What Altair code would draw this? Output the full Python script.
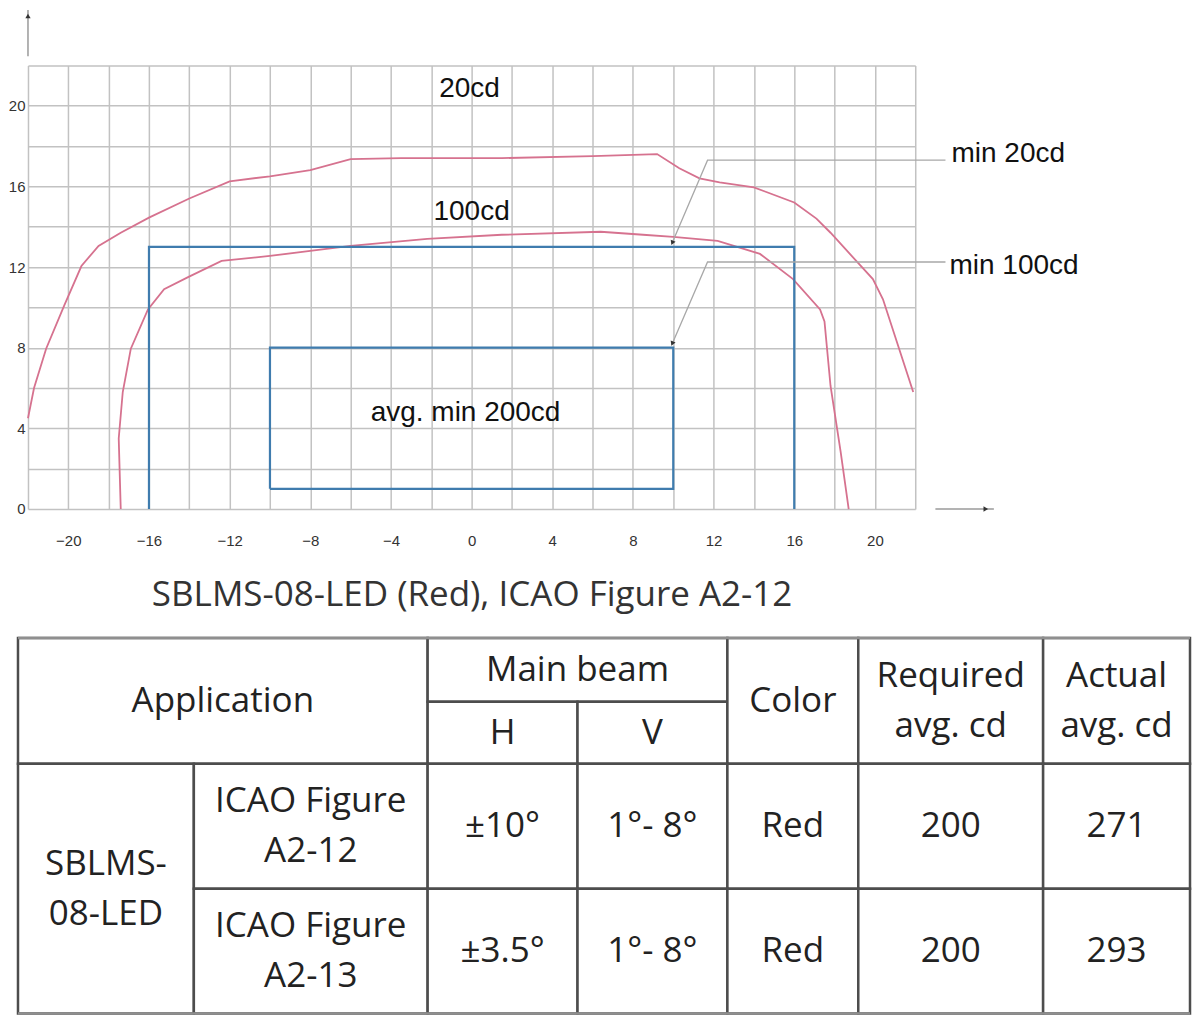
import altair as alt
import pandas as pd

# isocandela curves (H deg, V deg)
outer_x = [-22, -21.7, -21.1, -20.2, -19.35, -18.5, -17.4, -16, -14, -12, -10, -8, -6,
           -3.5, 1.5, 6, 9.2, 10.3, 11.3, 12.3, 14, 16, 17.1, 17.8, 19.9, 20.4, 21.9]
outer_y = [4.5, 6.0, 7.95, 10.1, 12.05, 13.05, 13.7, 14.45, 15.4, 16.25, 16.5, 16.8, 17.35,
           17.4, 17.4, 17.5, 17.6, 16.9, 16.4, 16.2, 15.95, 15.2, 14.4, 13.7, 11.4, 10.4, 5.8]
inner_x = [-17.4, -17.5, -17.3, -16.9, -16.05, -15.25, -14.06, -12.4, -10, -8, -6, -2.2,
           1.5, 6.4, 8.5, 10, 12.2, 14.3, 15.94, 17.28, 17.5, 17.8, 18.3, 18.7]
inner_y = [0, 3.5, 5.8, 7.95, 9.9, 10.9, 11.5, 12.3, 12.55, 12.8, 13.05, 13.4,
           13.6, 13.75, 13.6, 13.5, 13.3, 12.65, 11.4, 9.9, 9.3, 6.1, 2.85, 0]

# required beam boxes
box100_x = [-16, -16, 16, 16]
box100_y = [0, 13, 13, 0]
box200_x = [-10, -10, 10, 10, -10]
box200_y = [1, 8, 8, 1, 1]

# leader lines from the labels on the right
lead20_x = [23.5, 11.7, 9.95]
lead20_y = [17.3, 17.3, 13.2]
lead100_x = [23.5, 11.7, 9.95]
lead100_y = [12.25, 12.25, 8.2]

mid_labels = ["20cd", "100cd", "avg. min 200cd"]
mid_x = [-0.1, 0, -0.3]
mid_y = [20.85, 14.75, 4.75]
side_labels = ["min 20cd", "min 100cd"]
side_x = [23.8, 23.7]
side_y = [17.6, 12.05]

# axis arrows
arrow_x = [-22, 23.0]
arrow_x2 = [-22, 25.9]
arrow_y = [22.45, 0]
arrow_y2 = [24.75, 0]
head_x = [9.95, 9.95, -22, 25.5]
head_y = [13.2, 8.2, 24.45, 0]
head_shape = ["triangle-down", "triangle-down", "triangle-up", "triangle-right"]
head_angle = [23, 23, 0, 0]

# table
header = ["Application", "Main beam", "H", "V", "Color", "Required\navg. cd", "Actual\navg. cd"]
app_name = "SBLMS-\n08-LED"
figures = ["ICAO Figure\nA2-12", "ICAO Figure\nA2-13"]
beam_h = ["±10°", "±3.5°"]
beam_v = ["1°- 8°", "1°- 8°"]
colors = ["Red", "Red"]
required = [200, 200]
actual = [271, 293]

col_w = [176, 234, 150, 150, 131, 185, 147]
row_h = [64, 62, 125, 125]

RED = "#d6728f"
BLUE = "#3f7cae"
GRID = "#c2c2c2"
LINE_H = 50


def lines(parts):
    rows = []
    for name, xs, ys in parts:
        for i, (a, b) in enumerate(zip(xs, ys)):
            rows.append({"name": name, "i": i, "x": a, "y": b})
    return pd.DataFrame(rows)


xs = alt.Scale(domain=[-22, 22], nice=False, zero=False)
ys = alt.Scale(domain=[0, 22], nice=False, zero=False)
X = alt.X("x:Q", scale=xs, title="SBLMS-08-LED (Red), ICAO Figure A2-12",
          axis=alt.Axis(values=list(range(-22, 23, 2)),
                        labelExpr="datum.value % 4 == 0 ? datum.label : ''",
                        grid=True, gridColor=GRID, gridWidth=1.5, domain=False,
                        ticks=False, tickSize=0, labelPadding=25, labelFontSize=15,
                        labelFont="Liberation Sans", labelColor="#333",
                        labelFlush=False, labelOverlap=False,
                        titleFont="Open Sans", titleFontSize=35, titleFontWeight="normal",
                        titleColor="#333", titlePadding=29))
Y = alt.Y("y:Q", scale=ys, title=None,
          axis=alt.Axis(values=list(range(0, 23, 2)),
                        labelExpr="datum.value % 4 == 0 ? datum.label : ''",
                        grid=True, gridColor=GRID, gridWidth=1.5, domain=False,
                        ticks=False, tickSize=0, labelPadding=3, labelFontSize=15,
                        labelFont="Liberation Sans", labelColor="#333",
                        labelFlush=False, labelOverlap=False))

curves = alt.Chart(lines([("20cd", outer_x, outer_y), ("100cd", inner_x, inner_y)])).mark_line(
    color=RED, strokeWidth=1.8).encode(x=X, y=Y, detail="name:N", order="i:Q")

boxes = alt.Chart(lines([("b100", box100_x, box100_y), ("b200", box200_x, box200_y)])).mark_line(
    color=BLUE, strokeWidth=2.2).encode(x=X, y=Y, detail="name:N", order="i:Q")

leaders = alt.Chart(lines([("l20", lead20_x, lead20_y), ("l100", lead100_x, lead100_y)])).mark_line(
    color="#a8a8a8", strokeWidth=1.3).encode(x=X, y=Y, detail="name:N", order="i:Q")

arrows = alt.Chart(pd.DataFrame({"x": arrow_x, "x2": arrow_x2, "y": arrow_y, "y2": arrow_y2})).mark_rule(
    color="#9a9a9a", strokeWidth=1.5).encode(x=X, x2="x2:Q", y=Y, y2="y2:Q")

heads = alt.Chart(pd.DataFrame({"x": head_x, "y": head_y, "shape": head_shape, "angle": head_angle})).mark_point(
    filled=True, color="#333", size=28, opacity=1).encode(
    x=X, y=Y, shape=alt.Shape("shape:N", scale=None), angle=alt.Angle("angle:Q", scale=None))

mid_text = alt.Chart(pd.DataFrame({"x": mid_x, "y": mid_y, "t": mid_labels})).mark_text(
    font="Liberation Sans", fontSize=28, color="#111", align="center", baseline="middle").encode(
    x=X, y=Y, text="t:N")

side_text = alt.Chart(pd.DataFrame({"x": side_x, "y": side_y, "t": side_labels})).mark_text(
    font="Liberation Sans", fontSize=28, color="#111", align="left", baseline="middle").encode(
    x=X, y=Y, text="t:N")

plot = alt.layer(curves, boxes, leaders, arrows, heads, mid_text, side_text).properties(
    width=888, height=444)

# table cells: text, first col, last col (excl), first row, last row (excl)
cells = [
    (header[0], 0, 2, 0, 2), (header[1], 2, 4, 0, 1), (header[2], 2, 3, 1, 2),
    (header[3], 3, 4, 1, 2), (header[4], 4, 5, 0, 2), (header[5], 5, 6, 0, 2),
    (header[6], 6, 7, 0, 2), (app_name, 0, 1, 2, 4),
]
for r in range(2):
    vals = [figures[r], beam_h[r], beam_v[r], colors[r], str(required[r]), str(actual[r])]
    for c, v in enumerate(vals):
        cells.append((v, c + 1, c + 2, 2 + r, 3 + r))

cx = [0]
for w in col_w:
    cx.append(cx[-1] + w)
ry = [0]
for h in row_h:
    ry.append(ry[-1] + h)

tdf = pd.DataFrame([{"t": t, "x0": cx[a], "x1": cx[b], "y0": ry[c], "y1": ry[d],
                     "xm": (cx[a] + cx[b]) / 2, "ym": (ry[c] + ry[d]) / 2,
                     "two": "\n" in t}
                    for t, a, b, c, d in cells])
edges = pd.DataFrame({"x0": [0, 0], "x1": [cx[-1], cx[-1]], "y0": [0, ry[-1]]})

tx = alt.Scale(domain=[10, cx[-1]], nice=False, zero=False)
ty = alt.Scale(domain=[0, ry[-1]], nice=False, zero=False, reverse=True)
TX = alt.X("xm:Q", scale=tx, axis=None)
TY = alt.Y("ym:Q", scale=ty, axis=None)

cell_rect = alt.Chart(tdf).mark_rect(fill="white", stroke="#4d4d4d", strokeWidth=2.5).encode(
    x=alt.X("x0:Q", scale=tx, axis=None), x2="x1:Q",
    y=alt.Y("y0:Q", scale=ty, axis=None), y2="y1:Q")

outer_edges = alt.Chart(edges).mark_rule(color="#8f8f8f", strokeWidth=2.5).encode(
    x=alt.X("x0:Q", scale=tx, axis=None), x2="x1:Q", y=alt.Y("y0:Q", scale=ty, axis=None))

text_style = dict(font="Open Sans", fontSize=35, color="#222", align="center",
                  baseline="middle", lineBreak="\n", lineHeight=LINE_H)
one_line = alt.Chart(tdf[~tdf["two"]]).mark_text(**text_style).encode(x=TX, y=TY, text="t:N")
two_lines = alt.Chart(tdf[tdf["two"]]).mark_text(dy=-LINE_H / 2, **text_style).encode(
    x=TX, y=TY, text="t:N")

table = alt.layer(cell_rect, outer_edges, one_line, two_lines).properties(
    width=cx[-1] - 10, height=ry[-1])

chart = alt.vconcat(plot, table, spacing=23).properties(
    padding={"left": 0, "top": 0, "right": 0, "bottom": 0}
).configure_view(stroke=None)

chart.save("out.html", embed_options={"renderer": "svg", "actions": False})
